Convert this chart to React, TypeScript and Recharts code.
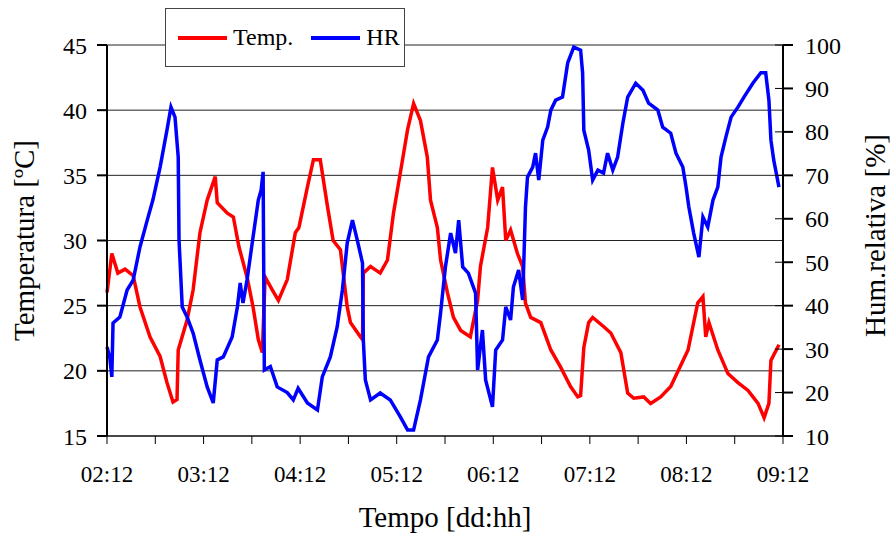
import React from "react";
import {
  LineChart,
  Line,
  XAxis,
  YAxis,
  CartesianGrid,
  Legend,
} from "recharts";

// hours since 02:12
const tempHours = [
  0, 1.2, 2.7, 4.5, 6.5, 8.2, 10.7, 13.2, 14.9, 16.4, 17.4, 17.7, 19.9, 21.4,
  23.1, 24.9, 26.9, 27.4, 29.9, 31.4, 32.8, 34.8, 36.3, 37.6, 38.6, 39.3, 41.1,
  42.6, 44.8, 46.8, 47.7, 49.8, 51.3, 53.0, 54.8, 56.2, 58.0, 59.7, 60.5, 63.0,
  63.5, 63.7, 65.5, 67.9, 69.7, 71.2, 72.9, 74.7, 76.2, 77.9, 79.6, 80.4, 82.1,
  82.9, 84.6, 86.1, 87.9, 90.3, 92.1, 92.8, 94.6, 95.8, 97.1, 98.3, 99.1,
  100.3, 102.0, 103.3, 104.0, 105.3, 107.8, 110.3, 112.7, 115.2, 117.0, 117.7,
  118.5, 119.7, 120.7, 123.4, 125.2, 127.7, 129.4, 130.9, 133.4, 135.1, 137.6,
  140.1, 142.1, 144.4, 145.8, 146.8, 148.1, 148.8, 149.6, 151.8, 154.3, 156.8,
  159.3, 161.8, 163.3, 164.5, 165.0, 167.0,
];
const tempValues = [
  26.0, 29.0, 27.5, 27.8, 27.3, 24.9, 22.6, 21.1, 19.1, 17.6, 17.8, 21.6, 23.9,
  26.2, 30.6, 33.1, 34.9, 32.9, 32.1, 31.8, 29.5, 27.2, 24.9, 22.4, 21.4, 27.2,
  26.2, 25.4, 27.0, 30.6, 31.0, 34.1, 36.2, 36.2, 32.6, 30.0, 29.3, 24.9, 23.7,
  22.6, 22.4, 27.5, 28.0, 27.5, 28.5, 32.1, 35.2, 38.5, 40.5, 39.2, 36.4, 33.1,
  31.0, 28.5, 26.0, 24.1, 23.1, 22.6, 25.4, 28.0, 31.0, 35.6, 33.1, 34.1, 30.0,
  30.8, 29.0, 28.0, 25.2, 24.1, 23.7, 21.6, 20.3, 18.8, 18.0, 18.1, 21.8, 23.7,
  24.1, 23.4, 22.9, 21.4, 18.3, 17.9, 18.0, 17.5, 18.0, 18.8, 20.1, 21.6, 23.7,
  25.2, 25.7, 22.6, 23.7, 21.6, 19.8, 19.1, 18.5, 17.5, 16.4, 17.5, 20.8, 22.0,
];

const humHours = [
  0, 0.7, 1.2, 1.5, 3.2, 5.0, 6.5, 8.2, 10.0, 11.4, 13.2, 14.9, 15.9, 16.9,
  17.7, 17.9, 18.7, 19.9, 21.4, 23.1, 24.9, 26.4, 27.4, 28.9, 31.1, 32.4, 33.1,
  33.8, 34.8, 36.3, 37.6, 38.3, 38.8, 39.1, 40.6, 42.3, 44.8, 46.3, 47.5, 49.8,
  52.3, 53.5, 55.5, 57.2, 58.5, 59.7, 61.0, 62.2, 63.5, 63.7, 64.2, 65.5, 67.9,
  70.4, 72.9, 74.7, 76.2, 77.9, 79.9, 82.1, 82.9, 84.1, 85.4, 86.6, 87.4, 88.4,
  89.8, 91.6, 92.1, 93.3, 94.1, 95.8, 96.6, 98.3, 99.1, 100.3, 101.0, 102.3,
  103.3, 104.0, 104.5, 105.8, 106.5, 107.3, 108.3, 109.5, 110.3, 111.5, 113.2,
  114.5, 116.0, 117.7, 118.2, 118.5, 119.7, 120.7, 122.0, 123.4, 124.4, 125.7,
  126.9, 128.2, 129.4, 131.4, 133.2, 134.6, 136.9, 138.1, 140.1, 141.4, 143.1,
  143.9, 144.6, 145.8, 147.1, 148.1, 149.3, 150.6, 151.8, 152.6, 153.8, 155.1,
  156.8, 158.3, 160.5, 162.5, 163.7, 164.5, 165.0, 165.7, 167.0,
];
const humValues = [
  30.5, 28.0, 23.6, 36.0, 37.4, 43.6, 45.9, 53.5, 59.7, 64.3, 71.9, 80.4, 85.7,
  83.4, 74.2, 55.1, 39.7, 37.4, 33.7, 27.5, 21.3, 17.6, 27.5, 28.2, 32.8, 39.7,
  45.2, 40.6, 45.9, 55.8, 64.3, 66.6, 70.8, 25.2, 26.0, 21.3, 20.0, 18.3, 21.0,
  17.6, 16.0, 23.6, 28.2, 35.1, 43.6, 54.4, 59.7, 55.1, 49.8, 32.1, 22.9, 18.3,
  19.9, 18.3, 14.4, 11.4, 11.4, 18.3, 28.2, 32.1, 38.3, 48.9, 56.7, 52.1, 59.7,
  48.9, 47.5, 42.9, 25.2, 34.4, 22.9, 16.7, 29.8, 32.1, 39.7, 36.7, 44.3, 48.2,
  41.3, 62.7, 69.6, 71.9, 75.1, 68.9, 78.1, 81.1, 85.0, 87.3, 88.0, 95.9, 99.5,
  98.8, 93.6, 80.4, 75.8, 68.9, 71.2, 70.5, 75.1, 71.2, 74.2, 82.0, 88.0, 91.2,
  89.6, 86.6, 85.0, 81.1, 79.7, 75.1, 71.9, 67.3, 62.7, 56.7, 51.2, 60.4, 58.1,
  64.3, 67.3, 74.2, 78.8, 83.4, 85.7, 88.0, 91.2, 93.6, 93.6, 87.3, 78.1, 73.5,
  67.3,
];

const dayLabels = ["02:12", "03:12", "04:12", "05:12", "06:12", "07:12", "08:12", "09:12"];
const xTicks = [0, 12, 24, 36, 48, 60, 72, 84, 96, 108, 120, 132, 144, 156, 168];
const tempTicks = [15, 20, 25, 30, 35, 40, 45];
const humTicks = [10, 20, 30, 40, 50, 60, 70, 80, 90, 100];

const tempData = tempHours.map((t, i) => ({ t, temp: tempValues[i] }));
const humData = humHours.map((t, i) => ({ t, hr: humValues[i] }));

const FONT = "Liberation Serif, DejaVu Serif, Times New Roman, serif";
const RIGHT_TICK = 10;
const RIGHT_MARGIN = 12;

function RightTick(props: any) {
  const { x, y, payload } = props;
  const axisX = x - RIGHT_TICK - RIGHT_MARGIN;
  return (
    <g>
      <line x1={axisX - 8} x2={axisX} y1={y} y2={y} stroke="#000" strokeWidth={1} />
      <text x={x} y={y} dy="0.355em" textAnchor="start" fontSize={24} fontFamily={FONT} fill="#000">
        {payload.value}
      </text>
    </g>
  );
}

function LegendBox() {
  const item = (color: string, label: string) => (
    <div style={{ display: "flex", alignItems: "center", marginRight: 18 }}>
      <div style={{ width: 49, height: 4, background: color, marginRight: 6 }} />
      <span>{label}</span>
    </div>
  );
  return (
    <div
      style={{
        width: 240,
        height: 59,
        boxSizing: "border-box",
        border: "1px solid #444",
        background: "#fff",
        display: "flex",
        alignItems: "center",
        paddingLeft: 12,
        fontFamily: FONT,
        fontSize: 24,
        color: "#000",
      }}
    >
      {item("#ff0000", "Temp.")}
      {item("#0000ff", "HR")}
    </div>
  );
}

export default function App() {
  return (
    <div
      style={{
        position: "absolute",
        left: 0,
        top: 0,
        width: 890,
        height: 538,
        background: "#fff",
        fontFamily: FONT,
      }}
    >
      <LineChart width={890} height={538} margin={{ top: 45, right: 0, bottom: 0, left: 0 }}>
        <CartesianGrid yAxisId="left" vertical={false} stroke="#222" strokeWidth={1} />
        <XAxis
          dataKey="t"
          type="number"
          domain={[0, 168]}
          ticks={xTicks}
          allowDuplicatedCategory={false}
          height={102}
          stroke="#000"
          tickSize={8}
          tickMargin={22}
          interval={0}
          tick={{ fontSize: 23, fontFamily: FONT, fill: "#000" }}
          tickFormatter={(v: number) => (v % 24 === 0 ? dayLabels[v / 24] : "")}
          label={{
            content: (p: any) => (
              <text
                x={p.viewBox.x + p.viewBox.width / 2}
                y={p.viewBox.y + 91}
                textAnchor="middle"
                fontSize={29}
                fontFamily={FONT}
                fill="#000"
              >
                Tempo [dd:hh]
              </text>
            ),
          }}
        />
        <YAxis
          yAxisId="left"
          domain={[15, 45]}
          ticks={tempTicks}
          width={107}
          stroke="#000"
          strokeWidth={2}
          tickSize={10}
          tickMargin={10}
          interval={0}
          tick={{ fontSize: 24, fontFamily: FONT, fill: "#000" }}
          label={{
            content: (p: any) => {
              const cx = p.viewBox.x + 24;
              const cy = p.viewBox.y + p.viewBox.height / 2;
              return (
                <text
                  x={cx}
                  y={cy}
                  transform={`rotate(-90 ${cx} ${cy})`}
                  textAnchor="middle"
                  dominantBaseline="central"
                  fontSize={29}
                  fontFamily={FONT}
                  fill="#000"
                >
                  Temperatura [ºC]
                </text>
              );
            },
          }}
        />
        <YAxis
          yAxisId="right"
          orientation="right"
          domain={[10, 100]}
          ticks={humTicks}
          width={107}
          stroke="#000"
          strokeWidth={2}
          tickSize={RIGHT_TICK}
          tickMargin={RIGHT_MARGIN}
          interval={0}
          tick={<RightTick />}
          label={{
            content: (p: any) => {
              const cx = p.viewBox.x + 92;
              const cy = p.viewBox.y + p.viewBox.height / 2 - 5;
              return (
                <text
                  x={cx}
                  y={cy}
                  transform={`rotate(-90 ${cx} ${cy})`}
                  textAnchor="middle"
                  dominantBaseline="central"
                  fontSize={29}
                  fontFamily={FONT}
                  fill="#000"
                >
                  Hum.relativa [%]
                </text>
              );
            },
          }}
        />
        <Legend
          layout="vertical"
          align="center"
          verticalAlign="middle"
          content={() => <LegendBox />}
          wrapperStyle={{ position: "absolute", left: 165, top: 8, width: 240, height: 59 }}
        />
        <Line
          yAxisId="left"
          data={tempData}
          dataKey="temp"
          name="Temp."
          type="linear"
          stroke="#ff0000"
          strokeWidth={3.5}
          dot={false}
          isAnimationActive={false}
        />
        <Line
          yAxisId="right"
          data={humData}
          dataKey="hr"
          name="HR"
          type="linear"
          stroke="#0000ff"
          strokeWidth={3.5}
          dot={false}
          isAnimationActive={false}
        />
      </LineChart>
    </div>
  );
}
